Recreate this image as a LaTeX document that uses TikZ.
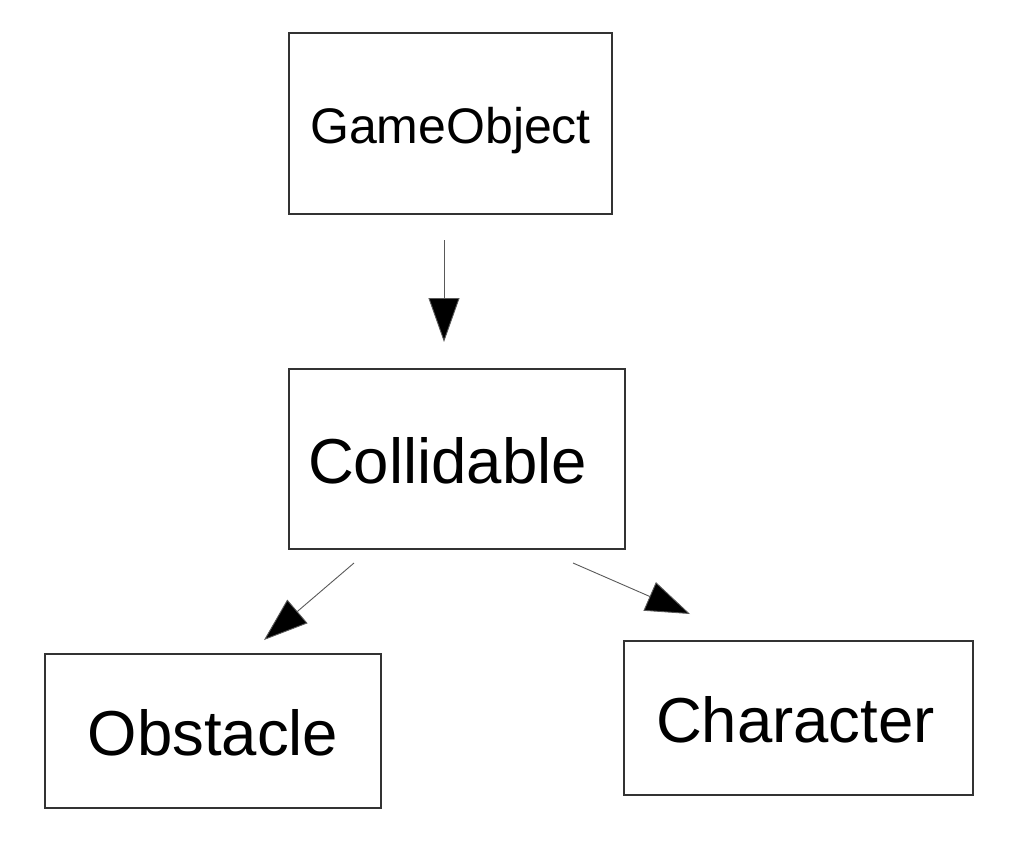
\documentclass[tikz,border=0pt]{standalone}
\usepackage{fontspec}
\setmainfont{Liberation Sans}
\usepackage{tikz}
\usetikzlibrary{arrows.meta}
\usetikzlibrary{positioning}

\tikzset{
  classbox/.style={draw=black!80,line width=1.1pt,rectangle,text=black,
    text depth=0pt,inner sep=0pt},
  bigfont/.style={font=\fontsize{63.5}{70}\selectfont,text height=49.5pt},
  smallfont/.style={font=\fontsize{50}{56}\selectfont,text height=39pt},
  inherits/.style={draw=black!65,line width=0.9pt,-{Triangle[length=44pt,width=31pt,fill=black]}}
}

\begin{document}
\begin{tikzpicture}[x=1pt,y=-1pt]
\useasboundingbox (0,0) rectangle (1022,846);

\node[classbox,smallfont,minimum width=323pt,minimum height=181pt] (gameobj) at (450.5,123.5) {GameObject};
\node[classbox,bigfont,minimum width=336pt,minimum height=180pt,text width=298pt,inner xsep=19pt,align=left] (collid) at (457,459) {Collidable};
\node[classbox,bigfont,minimum width=336pt,minimum height=154pt] (obstacle) at (213,731) {Obstacle};
\node[classbox,bigfont,minimum width=349pt,minimum height=154pt,text width=285pt,inner xsep=32pt,align=left] (charac) at (798.5,718) {Character};

% free ends of the arrows
\coordinate (gameobj-out) at (444,240);
\coordinate (collid-in) at (444,342);
\coordinate (collid-outl) at (354,563);
\coordinate (obstacle-in) at (264,640);
\coordinate (collid-outr) at (573,563);
\coordinate (charac-in) at (690,614);

\draw[inherits] (gameobj-out) -- (collid-in);
\draw[inherits] (collid-outl) -- (obstacle-in);
\draw[inherits] (collid-outr) -- (charac-in);

\end{tikzpicture}
\end{document}
